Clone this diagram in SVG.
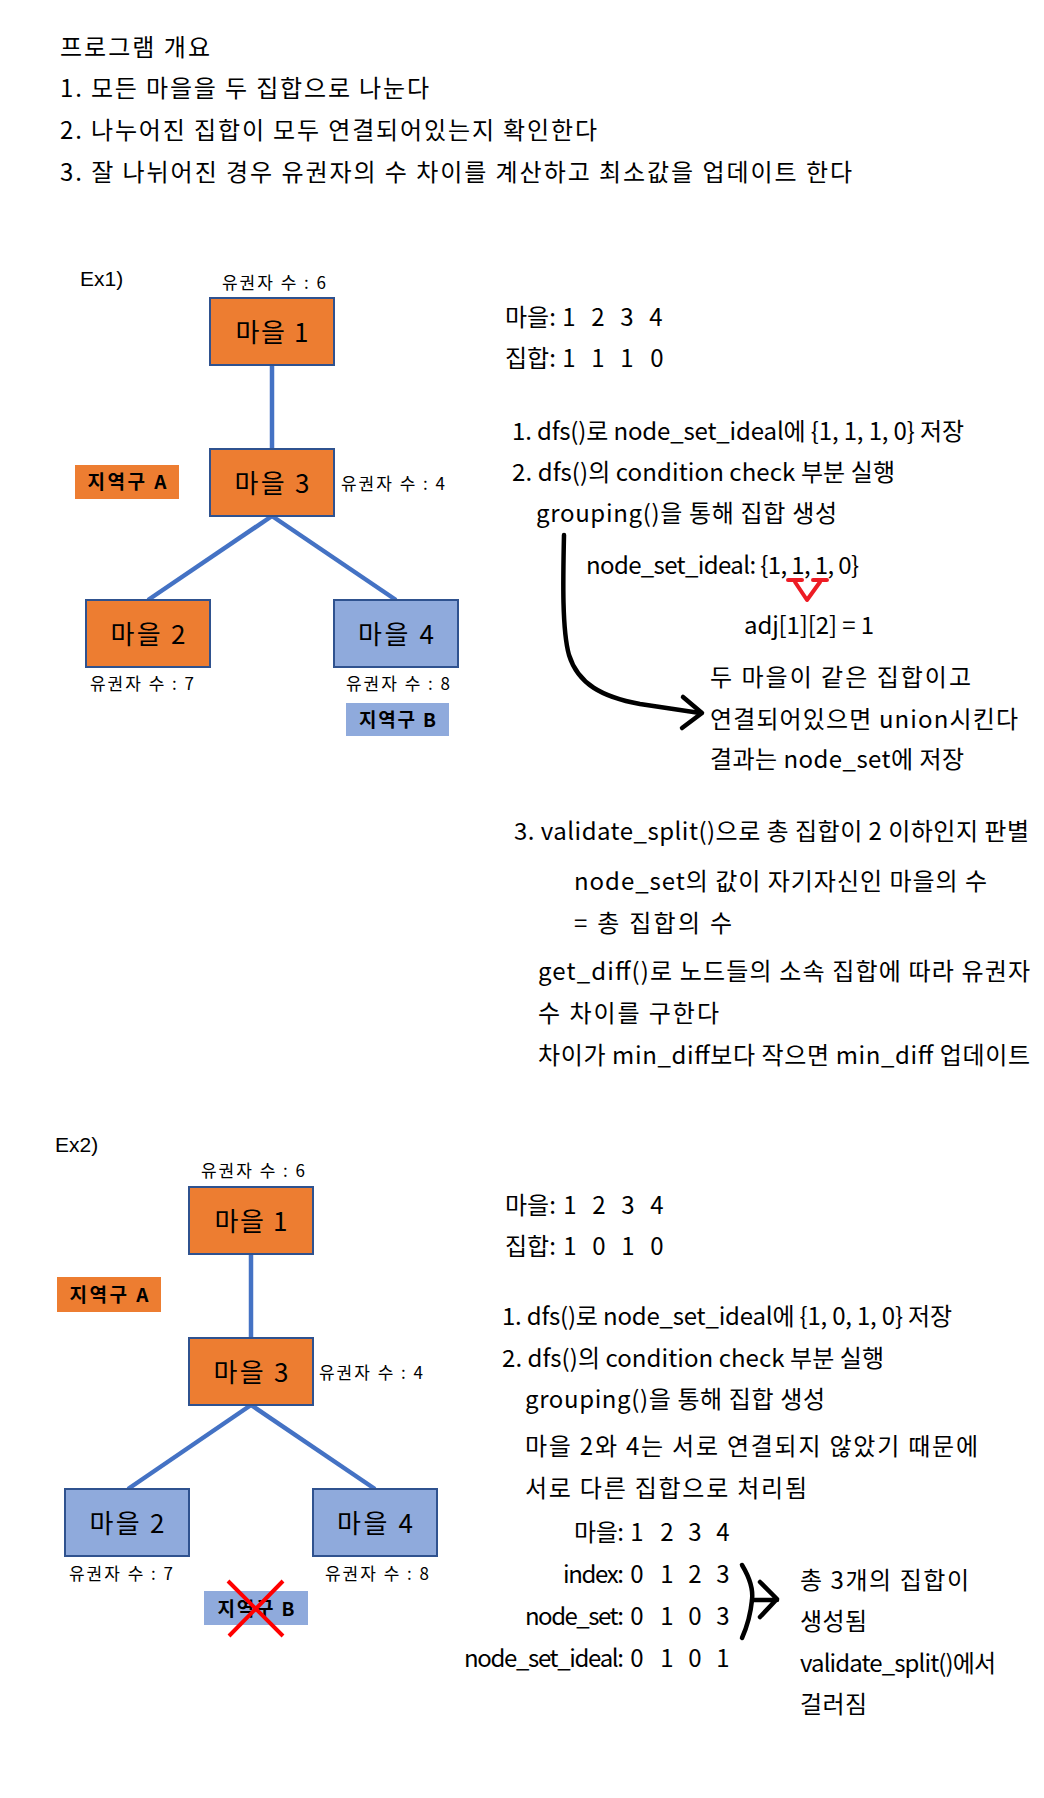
<svg xmlns="http://www.w3.org/2000/svg" width="1044" height="1798" viewBox="0 0 1044 1798">
<style>
text{font-family:"Noto Sans CJK KR","Noto Sans",sans-serif;fill:#000}
.t{font-size:24px}
.lbl{font-size:17px}
.ex{font-family:"Liberation Sans",sans-serif;font-size:21px}
.nt{font-size:26px;text-anchor:middle}
.dist{font-size:19px;font-weight:bold;text-anchor:middle}
.m{text-anchor:middle}
.e{text-anchor:end}
.or{fill:#ED7D31;stroke:#2F528F;stroke-width:2}
.bl{fill:#8FAADC;stroke:#2F528F;stroke-width:2}
.conn{stroke:#4472C4;stroke-width:4.5;fill:none}
.pen{stroke:#000;stroke-width:4.5;fill:none;stroke-linecap:round;stroke-linejoin:round}
</style>
<rect width="1044" height="1798" fill="#fff"/>

<g id="header">
<text class="t" x="60" y="56" textLength="150">프로그램 개요</text>
<text class="t" x="60" y="97" textLength="369">1. 모든 마을을 두 집합으로 나눈다</text>
<text class="t" x="60" y="139" textLength="537">2. 나누어진 집합이 모두 연결되어있는지 확인한다</text>
<text class="t" x="60" y="181" textLength="792">3. 잘 나뉘어진 경우 유권자의 수 차이를 계산하고 최소값을 업데이트 한다</text>
</g>

<!-- Example 1 -->
<text class="ex" x="80" y="286">Ex1)</text>
<g id="ex1-connectors">
<line class="conn" x1="272" y1="365" x2="272" y2="449"/>
<line class="conn" x1="272" y1="516" x2="148" y2="600"/>
<line class="conn" x1="272" y1="516" x2="396" y2="600"/>
</g>
<g id="ex1-village1">
<text class="lbl" x="222" y="289" textLength="104">유권자 수 : 6</text>
<rect class="or" x="210" y="298" width="124" height="67"/>
<text class="nt" x="272" y="342" textLength="73">마을 1</text>
</g>
<g id="ex1-village3">
<rect class="or" x="210" y="449" width="124" height="67"/>
<text class="nt" x="272" y="493" textLength="75">마을 3</text>
<text class="lbl" x="341" y="490" textLength="104">유권자 수 : 4</text>
</g>
<g id="ex1-districtA">
<rect x="75" y="465" width="104" height="34" fill="#ED7D31"/>
<text class="dist" x="127" y="489" textLength="79">지역구 A</text>
</g>
<g id="ex1-village2">
<rect class="or" x="86" y="600" width="124" height="67"/>
<text class="nt" x="148" y="644" textLength="75">마을 2</text>
<text class="lbl" x="90" y="690" textLength="104">유권자 수 : 7</text>
</g>
<g id="ex1-village4">
<rect class="bl" x="334" y="600" width="124" height="67"/>
<text class="nt" x="396" y="644" textLength="76">마을 4</text>
<text class="lbl" x="346" y="690" textLength="104">유권자 수 : 8</text>
</g>
<g id="ex1-districtB">
<rect x="346" y="703" width="103" height="33" fill="#8FAADC"/>
<text class="dist" x="397.5" y="727" textLength="77">지역구 B</text>
</g>

<g id="ex1-notes">
<text class="t" x="505" y="326">마을:<tspan class="m" x="569">1</tspan><tspan class="m" x="598">2</tspan><tspan class="m" x="627">3</tspan><tspan class="m" x="656">4</tspan></text>
<text class="t" x="505" y="367">집합:<tspan class="m" x="569">1</tspan><tspan class="m" x="598">1</tspan><tspan class="m" x="627">1</tspan><tspan class="m" x="657">0</tspan></text>
<text class="t" x="512" y="440" textLength="452">1. dfs()로 node_set_ideal에 {1, 1, 1, 0} 저장</text>
<text class="t" x="512" y="481" textLength="383">2. dfs()의 condition check 부분 실행</text>
<text class="t" x="536" y="522" textLength="301">grouping()을 통해 집합 생성</text>
<text class="t" x="586" y="574" textLength="273">node_set_ideal: {1, 1, 1, 0}</text>
<path d="M788 580 L802 580 M795 582 L807 600 L820 582 M813 580 L827 580" stroke="#ED1C24" stroke-width="4" fill="none" stroke-linecap="round" stroke-linejoin="round"/>
<text class="t" x="744" y="634" textLength="130">adj[1][2] = 1</text>
<text class="t" x="710" y="686" textLength="261">두 마을이 같은 집합이고</text>
<text class="t" x="710" y="728" textLength="308">연결되어있으면 union시킨다</text>
<text class="t" x="710" y="768" textLength="254">결과는 node_set에 저장</text>
<path class="pen" d="M564 535 C563 580 562 630 569 655 C578 684 602 697 640 704 L700 713"/>
<path class="pen" d="M683 697 L702 713 L682 728"/>
<text class="t" x="514" y="840" textLength="515">3. validate_split()으로 총 집합이 2 이하인지 판별</text>
<text class="t" x="574" y="890" textLength="413">node_set의 값이 자기자신인 마을의 수</text>
<text class="t" x="574" y="932" textLength="158">= 총 집합의 수</text>
<text class="t" x="538" y="980" textLength="492">get_diff()로 노드들의 소속 집합에 따라 유권자</text>
<text class="t" x="538" y="1022" textLength="181">수 차이를 구한다</text>
<text class="t" x="538" y="1064" textLength="492">차이가 min_diff보다 작으면 min_diff 업데이트</text>
</g>

<!-- Example 2 -->
<text class="ex" x="55" y="1152">Ex2)</text>
<g id="ex2-connectors">
<line class="conn" x1="251" y1="1254" x2="251" y2="1338"/>
<line class="conn" x1="251" y1="1405" x2="128" y2="1489"/>
<line class="conn" x1="251" y1="1405" x2="375" y2="1489"/>
</g>
<g id="ex2-village1">
<text class="lbl" x="201" y="1177" textLength="104">유권자 수 : 6</text>
<rect class="or" x="189" y="1187" width="124" height="67"/>
<text class="nt" x="251" y="1231" textLength="73">마을 1</text>
</g>
<g id="ex2-districtA">
<rect x="57" y="1277" width="104" height="35" fill="#ED7D31"/>
<text class="dist" x="109" y="1302" textLength="79">지역구 A</text>
</g>
<g id="ex2-village3">
<rect class="or" x="189" y="1338" width="124" height="67"/>
<text class="nt" x="251" y="1382" textLength="75">마을 3</text>
<text class="lbl" x="319" y="1379" textLength="104">유권자 수 : 4</text>
</g>
<g id="ex2-village2">
<rect class="bl" x="65" y="1489" width="124" height="67"/>
<text class="nt" x="127" y="1533" textLength="75">마을 2</text>
<text class="lbl" x="69" y="1580" textLength="104">유권자 수 : 7</text>
</g>
<g id="ex2-village4">
<rect class="bl" x="313" y="1489" width="124" height="67"/>
<text class="nt" x="375" y="1533" textLength="76">마을 4</text>
<text class="lbl" x="325" y="1580" textLength="104">유권자 수 : 8</text>
</g>
<g id="ex2-districtB">
<rect x="204" y="1591" width="104" height="34" fill="#8FAADC"/>
<text class="dist" x="256" y="1616" textLength="77">지역구 B</text>
<path d="M228 1581 L283 1636 M283 1581 L229 1636" stroke="#FF0000" stroke-width="4" fill="none"/>
</g>

<g id="ex2-notes">
<text class="t" x="505" y="1214">마을:<tspan class="m" x="570">1</tspan><tspan class="m" x="599">2</tspan><tspan class="m" x="628">3</tspan><tspan class="m" x="657">4</tspan></text>
<text class="t" x="505" y="1255">집합:<tspan class="m" x="570">1</tspan><tspan class="m" x="599">0</tspan><tspan class="m" x="628">1</tspan><tspan class="m" x="657">0</tspan></text>
<text class="t" x="502" y="1325" textLength="450">1. dfs()로 node_set_ideal에 {1, 0, 1, 0} 저장</text>
<text class="t" x="502" y="1367" textLength="382">2. dfs()의 condition check 부분 실행</text>
<text class="t" x="525" y="1408" textLength="300">grouping()을 통해 집합 생성</text>
<text class="t" x="525" y="1455" textLength="453">마을 2와 4는 서로 연결되지 않았기 때문에</text>
<text class="t" x="525" y="1497" textLength="282">서로 다른 집합으로 처리됨</text>
<text class="t e" x="624" y="1541" textLength="50">마을:</text>
<text class="t e" x="624" y="1583" textLength="61">index:</text>
<text class="t e" x="624" y="1625" textLength="99">node_set:</text>
<text class="t e" x="624" y="1667" textLength="160">node_set_ideal:</text>
<text class="t m" y="1541"><tspan x="637">1</tspan><tspan x="667">2</tspan><tspan x="695">3</tspan><tspan x="723">4</tspan></text>
<text class="t m" y="1583"><tspan x="637">0</tspan><tspan x="667">1</tspan><tspan x="695">2</tspan><tspan x="723">3</tspan></text>
<text class="t m" y="1625"><tspan x="637">0</tspan><tspan x="667">1</tspan><tspan x="695">0</tspan><tspan x="723">3</tspan></text>
<text class="t m" y="1667"><tspan x="637">0</tspan><tspan x="667">1</tspan><tspan x="695">0</tspan><tspan x="723">1</tspan></text>
<path class="pen" d="M742 1565 Q754 1585 752 1600 Q750 1620 742 1638"/>
<path class="pen" d="M752 1600 L777 1600 M760 1582 L777 1599 L760 1617"/>
<text class="t" x="800" y="1589" textLength="169">총 3개의 집합이</text>
<text class="t" x="800" y="1630" textLength="67">생성됨</text>
<text class="t" x="800" y="1672" textLength="196">validate_split()에서</text>
<text class="t" x="800" y="1713" textLength="67">걸러짐</text>
</g>
</svg>
